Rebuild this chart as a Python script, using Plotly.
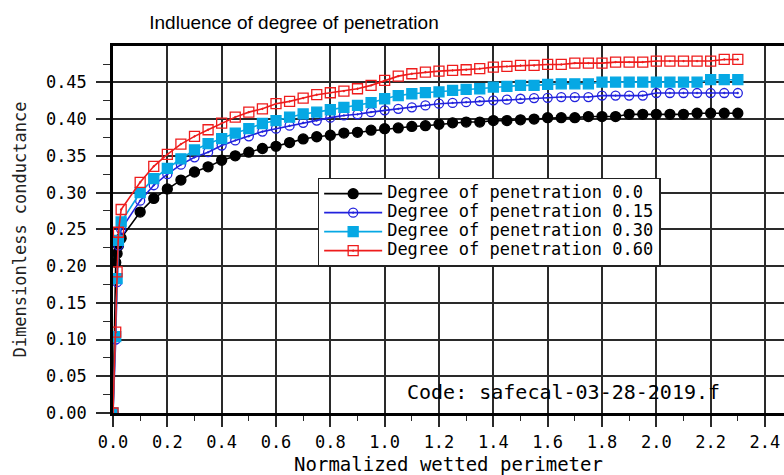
import plotly.graph_objects as go

# ---- data ----
x_perimeter = [0.0, 0.01, 0.015, 0.02, 0.03, 0.10, 0.15, 0.20, 0.25, 0.30,
               0.35, 0.40, 0.45, 0.50, 0.55, 0.60, 0.65, 0.70, 0.75, 0.80,
               0.85, 0.90, 0.95, 1.00, 1.05, 1.10, 1.15, 1.20, 1.25, 1.30,
               1.35, 1.40, 1.45, 1.50, 1.55, 1.60, 1.65, 1.70, 1.75, 1.80,
               1.85, 1.90, 1.95, 2.00, 2.05, 2.10, 2.15, 2.20, 2.25, 2.30]

pen_000 = [0.0, 0.205, 0.217, 0.228, 0.238, 0.2735, 0.292, 0.305, 0.317, 0.328,
           0.335, 0.344, 0.350, 0.355, 0.360, 0.363, 0.368, 0.373, 0.376, 0.378,
           0.381, 0.382, 0.385, 0.387, 0.388, 0.390, 0.391, 0.393, 0.395, 0.396,
           0.396, 0.398, 0.398, 0.399, 0.400, 0.402, 0.402, 0.402, 0.4035, 0.4035,
           0.4035, 0.4065, 0.4065, 0.4065, 0.4065, 0.4065, 0.408, 0.408, 0.408, 0.408]

pen_015 = [0.0, 0.100, 0.178, 0.228, 0.250, 0.289, 0.310, 0.325, 0.338, 0.348,
           0.355, 0.364, 0.371, 0.3765, 0.383, 0.387, 0.391, 0.395, 0.398, 0.402,
           0.405, 0.4065, 0.4095, 0.412, 0.414, 0.416, 0.4186, 0.421, 0.422, 0.423,
           0.4245, 0.4255, 0.4265, 0.4277, 0.4286, 0.429, 0.430, 0.430, 0.430, 0.432,
           0.432, 0.432, 0.432, 0.4355, 0.4355, 0.4355, 0.4355, 0.4355, 0.4355, 0.4355]

pen_030 = [0.0, 0.104, 0.183, 0.235, 0.260, 0.300, 0.319, 0.333, 0.346, 0.358,
           0.3665, 0.3735, 0.381, 0.387, 0.394, 0.398, 0.4027, 0.407, 0.4095, 0.4127,
           0.416, 0.4186, 0.4223, 0.4277, 0.432, 0.4345, 0.436, 0.437, 0.439, 0.4404,
           0.4413, 0.4436, 0.4445, 0.4459, 0.4459, 0.4472, 0.448, 0.448, 0.448, 0.4504,
           0.4504, 0.4504, 0.4504, 0.4504, 0.4504, 0.4504, 0.4504, 0.4536, 0.4536, 0.4536]

pen_060 = [0.0, 0.110, 0.192, 0.246, 0.277, 0.314, 0.3357, 0.352, 0.366, 0.3765,
           0.3855, 0.3946, 0.4027, 0.4095, 0.414, 0.421, 0.4241, 0.4286, 0.4332, 0.4359,
           0.4381, 0.4413, 0.4459, 0.4526, 0.4585, 0.4617, 0.464, 0.4653, 0.4663, 0.4672,
           0.4686, 0.4708, 0.4717, 0.473, 0.473, 0.4744, 0.4744, 0.4762, 0.4762, 0.4762,
           0.4776, 0.4776, 0.4776, 0.479, 0.479, 0.479, 0.479, 0.479, 0.4812, 0.4812]

series_names = ["Degree of penetration 0.0", "Degree of penetration 0.15",
                "Degree of penetration 0.30", "Degree of penetration 0.60"]
series_values = [pen_000, pen_015, pen_030, pen_060]

title_text = "Indluence of degree of penetration"
x_title = "Normalized wetted perimeter"
y_title = "Dimensionless conductance"
code_note = "Code: safecal-03-28-2019.f"

# ---- styles ----
styles = [
    dict(color="#000000", symbol="circle", size=10),
    dict(color="#2222dd", symbol="circle-open-dot", size=9),
    dict(color="#06a8e4", symbol="square", size=10),
    dict(color="#ee1c1c", symbol="square-open-dot", size=10),
]

WIDE = "DejaVu Sans Mono"

fig = go.Figure()
for name, vals, st in zip(series_names, series_values, styles):
    fig.add_trace(go.Scatter(
        x=x_perimeter, y=vals,
        name="<span style='font-size:17px'>" + name + "</span>",
        mode="lines+markers",
        line=dict(color=st["color"], width=1.6),
        marker=dict(symbol=st["symbol"], size=st["size"], color=st["color"],
                    line=dict(color=st["color"], width=1.3)),
    ))

grid_col = "#2a2a2a"
fig.update_layout(
    template="none",
    width=784, height=475,
    margin=dict(l=113, r=0, t=46, b=62, autoexpand=False),
    paper_bgcolor="white", plot_bgcolor="white",
    title=dict(text=title_text, x=0.375, xanchor="center", y=0.952, yanchor="middle",
               font=dict(family="Liberation Sans", size=19, color="black")),
    showlegend=True,
    legend=dict(x=0.305, y=0.52, xanchor="left", yanchor="middle",
                bgcolor="white", bordercolor="#222", borderwidth=1.5,
                font=dict(family=WIDE, size=12.3, color="black"),
                itemwidth=58, tracegroupgap=0),
    xaxis=dict(range=[0, 2.47], tick0=0, dtick=0.2, tickformat=".1f",
               automargin=False,
               showgrid=True, gridcolor=grid_col, gridwidth=1.6,
               ticks="outside", ticklen=11, tickwidth=1.6, tickcolor=grid_col,
               minor=dict(dtick=0.1, ticks="outside", ticklen=5, tickcolor=grid_col,
                          tickwidth=1.3, showgrid=False),
               showline=True, linecolor="black", linewidth=2.5, mirror=True,
               zeroline=False,
               tickfont=dict(family=WIDE, size=17, color="black"),
               ticklabelstandoff=1,
               title=dict(text=x_title, standoff=9,
                          font=dict(family=WIDE, size=19, color="black"))),
    yaxis=dict(range=[0, 0.4995], tick0=0, dtick=0.05, tickformat=".2f",
               automargin=False,
               showgrid=True, gridcolor=grid_col, gridwidth=1.6,
               ticks="outside", ticklen=14, tickwidth=1.6, tickcolor=grid_col,
               minor=dict(dtick=0.025, ticks="outside", ticklen=7, tickcolor=grid_col,
                          tickwidth=1.3, showgrid=False),
               showline=True, linecolor="black", linewidth=2.5, mirror=True,
               zeroline=False,
               tickfont=dict(family=WIDE, size=17, color="black"),
               ticklabelstandoff=6,
               title=dict(text=y_title, standoff=15,
                          font=dict(family=WIDE, size=17, color="#222"))),
)

fig.add_annotation(x=1.075, y=0.028, xref="x", yref="y", text=code_note,
                   showarrow=False, xanchor="left", yanchor="middle",
                   font=dict(family=WIDE, size=20, color="black"))

fig.write_html("out.html", config={"displayModeBar": False},
               post_script="document.body.style.margin='0px';document.body.style.padding='0px';")
